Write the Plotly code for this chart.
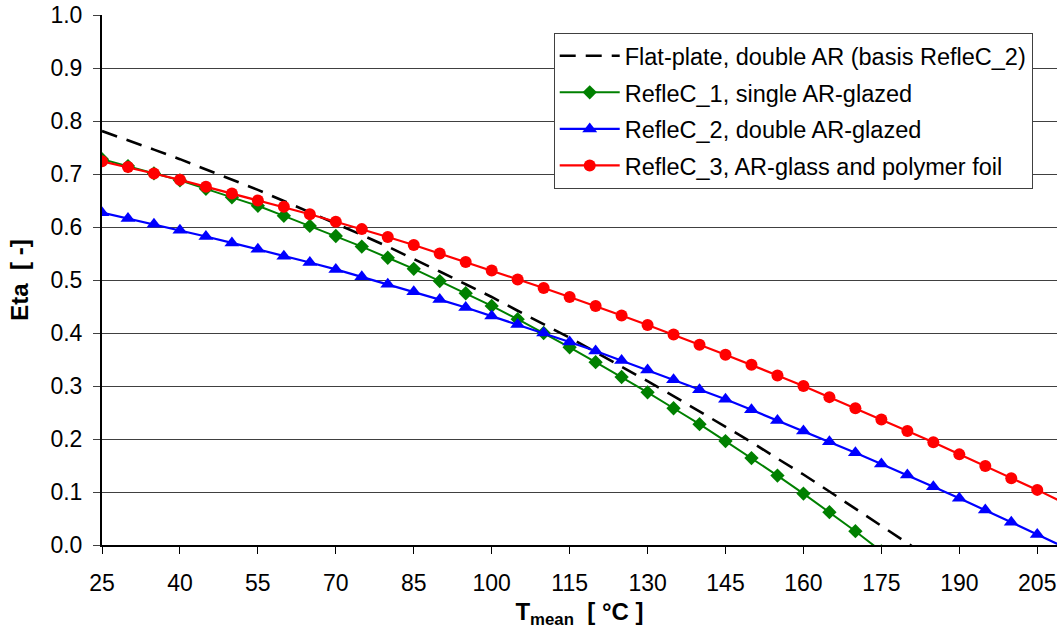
import plotly.graph_objects as go

# ---- data ----
t_flat = [25, 30, 35, 40, 45, 50, 55, 60, 65, 70, 75, 80, 85, 90, 95, 100, 105,
          110, 115, 120, 125, 130, 135, 140, 145, 150, 155, 160, 165, 170, 175,
          180, 185]
eta_flat = [0.781, 0.764, 0.746, 0.728, 0.709, 0.690, 0.670, 0.649, 0.628, 0.607,
            0.585, 0.563, 0.540, 0.516, 0.492, 0.468, 0.442, 0.417, 0.391, 0.364,
            0.337, 0.309, 0.281, 0.252, 0.223, 0.194, 0.163, 0.133, 0.101, 0.069,
            0.037, 0.004, -0.029]

t_r1 = [25, 30, 35, 40, 45, 50, 55, 60, 65, 70, 75, 80, 85, 90, 95, 100, 105,
        110, 115, 120, 125, 130, 135, 140, 145, 150, 155, 160, 165, 170, 175]
eta_r1 = [0.728, 0.715, 0.701, 0.688, 0.672, 0.656, 0.640, 0.621, 0.602, 0.583,
          0.563, 0.542, 0.521, 0.498, 0.475, 0.451, 0.426, 0.400, 0.373, 0.345,
          0.317, 0.288, 0.258, 0.228, 0.196, 0.164, 0.131, 0.097, 0.062, 0.026,
          -0.012]

t_r2 = [25, 30, 35, 40, 45, 50, 55, 60, 65, 70, 75, 80, 85, 90, 95, 100, 105,
        110, 115, 120, 125, 130, 135, 140, 145, 150, 155, 160, 165, 170, 175,
        180, 185, 190, 195, 200, 205, 210]
eta_r2 = [0.627, 0.616, 0.605, 0.594, 0.582, 0.570, 0.558, 0.545, 0.533, 0.520,
          0.506, 0.492, 0.478, 0.463, 0.448, 0.432, 0.416, 0.400, 0.383, 0.366,
          0.348, 0.330, 0.312, 0.293, 0.275, 0.255, 0.235, 0.215, 0.195, 0.174,
          0.153, 0.132, 0.110, 0.088, 0.066, 0.043, 0.020, -0.003]

t_r3 = [25, 30, 35, 40, 45, 50, 55, 60, 65, 70, 75, 80, 85, 90, 95, 100, 105,
        110, 115, 120, 125, 130, 135, 140, 145, 150, 155, 160, 165, 170, 175,
        180, 185, 190, 195, 200, 205, 210]
eta_r3 = [0.724, 0.713, 0.701, 0.689, 0.676, 0.663, 0.650, 0.638, 0.624, 0.610,
          0.596, 0.581, 0.566, 0.550, 0.534, 0.518, 0.501, 0.485, 0.468, 0.451,
          0.433, 0.415, 0.397, 0.378, 0.359, 0.340, 0.320, 0.300, 0.279, 0.258,
          0.237, 0.215, 0.194, 0.171, 0.149, 0.126, 0.104, 0.080]

x_ticks = [25, 40, 55, 70, 85, 100, 115, 130, 145, 160, 175, 190, 205]
y_ticks = [0.0, 0.1, 0.2, 0.3, 0.4, 0.5, 0.6, 0.7, 0.8, 0.9, 1.0]

names = ["Flat-plate, double AR (basis RefleC_2)",
         "RefleC_1, single AR-glazed",
         "RefleC_2, double AR-glazed",
         "RefleC_3, AR-glass and polymer foil"]

FONT = "Arial, 'Liberation Sans', sans-serif"

fig = go.Figure()
fig.add_trace(go.Scatter(x=t_flat, y=eta_flat, mode="lines", name=names[0],
                         legendgroup="a",
                         line=dict(color="black", width=2.6, dash="16px,10px")))
fig.add_trace(go.Scatter(x=t_r1, y=eta_r1, mode="lines+markers", name=names[1],
                         legendgroup="b",
                         line=dict(color="#008000", width=2),
                         marker=dict(symbol="diamond", size=11, color="#008000")))
fig.add_trace(go.Scatter(x=t_r2, y=eta_r2, mode="lines+markers", name=names[2],
                         legendgroup="c",
                         line=dict(color="#0000FF", width=2.2),
                         marker=dict(symbol="triangle-up", size=13, color="#0000FF")))
fig.add_trace(go.Scatter(x=t_r3, y=eta_r3, mode="lines+markers", name=names[3],
                         legendgroup="d",
                         line=dict(color="#FF0000", width=2.2),
                         marker=dict(symbol="circle", size=12, color="#FF0000")))

fig.update_layout(
    width=1057, height=637,
    margin=dict(l=102, r=0, t=15, b=92, pad=0),
    paper_bgcolor="white", plot_bgcolor="white",
    font=dict(family=FONT, size=23, color="black"),
    showlegend=True,
    legend=dict(x=0.473, y=0.966, xanchor="left", yanchor="top",
                bgcolor="white", bordercolor="#404040", borderwidth=1,
                font=dict(family=FONT, size=23.5, color="black"),
                traceorder="grouped", tracegroupgap=3, itemwidth=60),
)
fig.update_xaxes(
    range=[25, 208.8], tickmode="array", tickvals=x_ticks,
    ticktext=[str(v) for v in x_ticks],
    showline=True, linecolor="black", linewidth=2,
    ticks="outside", ticklen=7, tickcolor="black", tickwidth=1,
    showgrid=False, zeroline=False, ticklabelstandoff=9,
    tickfont=dict(size=23),
    title=dict(text="<b>T<sub>mean</sub>  [ °C ]</b>", font=dict(size=24), standoff=9),
)
fig.update_yaxes(
    range=[0, 1], tickmode="array", tickvals=y_ticks,
    ticktext=[f"{v:.1f}" for v in y_ticks],
    showline=True, linecolor="black", linewidth=2,
    ticks="outside", ticklen=7, tickcolor="#404040", tickwidth=1,
    showgrid=True, gridcolor="#404040", gridwidth=1, zeroline=False,
    ticklabelstandoff=6, tickfont=dict(size=23),
    title=dict(text="<b>Eta  [ -]</b>", font=dict(size=24), standoff=15),
)

fig.write_html("out.html")
